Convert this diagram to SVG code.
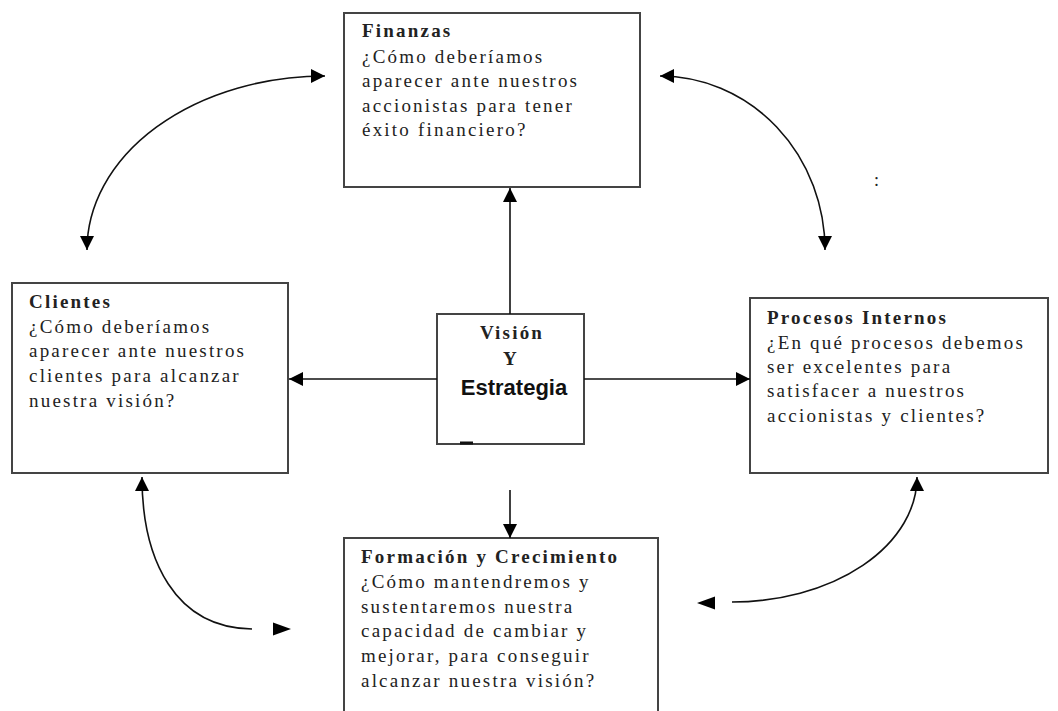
<svg xmlns="http://www.w3.org/2000/svg" width="1058" height="711" viewBox="0 0 1058 711">
  <defs>
    <marker id="ah" markerUnits="userSpaceOnUse" markerWidth="15" markerHeight="14" refX="14" refY="7" orient="auto-start-reverse" viewBox="0 0 15 14">
      <path d="M0,0 L14,7 L0,14 z" fill="#000"/>
    </marker>
    <style>
      .box { fill: #fff; stroke: #444; stroke-width: 2; }
      .t { font-family: "Liberation Serif", "Times New Roman", serif; font-size: 19px; letter-spacing: 2.2px; fill: #222; }
      .b { font-weight: bold; }
      .c { text-anchor: middle; }
      .sans { font-family: "Liberation Sans", Arial, sans-serif; font-size: 22px; font-weight: bold; letter-spacing: 0; fill: #111; }
      .ln { fill: none; stroke: #111; stroke-width: 1.6; }
    </style>
  </defs>
  <rect width="1058" height="711" fill="#fff"/>

  <g id="finanzas">
    <rect class="box" x="344" y="13" width="296" height="174"/>
    <text class="t b" x="362" y="37">Finanzas</text>
    <text class="t" x="362" y="63">¿Cómo deberíamos</text>
    <text class="t" x="362" y="87">aparecer ante nuestros</text>
    <text class="t" x="362" y="112">accionistas para tener</text>
    <text class="t" x="362" y="136">éxito financiero?</text>
  </g>

  <g id="clientes">
    <rect class="box" x="12" y="283" width="276" height="190"/>
    <text class="t b" x="29" y="308">Clientes</text>
    <text class="t" x="29" y="333">¿Cómo deberíamos</text>
    <text class="t" x="29" y="357">aparecer ante nuestros</text>
    <text class="t" x="29" y="382">clientes para alcanzar</text>
    <text class="t" x="29" y="407">nuestra visión?</text>
  </g>

  <g id="vision">
    <rect class="box" x="437" y="314" width="147" height="130"/>
    <line x1="460" y1="443" x2="473" y2="443" stroke="#111" stroke-width="3"/>
    <text class="t b c" x="512" y="339">Visión</text>
    <text class="t b c" x="511" y="365">Y</text>
    <text class="sans c" x="514" y="395">Estrategia</text>
  </g>

  <g id="procesos">
    <rect class="box" x="750" y="298" width="298" height="175"/>
    <text class="t b" x="767" y="324">Procesos Internos</text>
    <text class="t" x="767" y="349">¿En qué procesos debemos</text>
    <text class="t" x="767" y="373">ser excelentes para</text>
    <text class="t" x="767" y="397">satisfacer a nuestros</text>
    <text class="t" x="767" y="422">accionistas y clientes?</text>
  </g>

  <g id="formacion">
    <rect class="box" x="344" y="538" width="314" height="190"/>
    <text class="t b" x="361" y="563">Formación y Crecimiento</text>
    <text class="t" x="361" y="588">¿Cómo mantendremos y</text>
    <text class="t" x="361" y="613">sustentaremos nuestra</text>
    <text class="t" x="361" y="637">capacidad de cambiar y</text>
    <text class="t" x="361" y="662">mejorar, para conseguir</text>
    <text class="t" x="361" y="687">alcanzar nuestra visión?</text>
  </g>

  <g id="nota">
    <text x="874" y="186" style="font-family:'Liberation Serif',serif;font-size:18px;fill:#222">:</text>
  </g>

  <g id="connectors">
    <line class="ln" x1="510" y1="314" x2="510" y2="188" marker-end="url(#ah)"/>
    <line class="ln" x1="437" y1="379" x2="289" y2="379" marker-end="url(#ah)"/>
    <line class="ln" x1="584" y1="379" x2="750" y2="379" marker-end="url(#ah)"/>
    <line class="ln" x1="510" y1="490" x2="510" y2="538" marker-end="url(#ah)"/>
    <path class="ln" d="M87,250 A238,174 0 0 1 325,76" marker-start="url(#ah)" marker-end="url(#ah)"/>
    <path class="ln" d="M660,76 A165,174 0 0 1 825,250" marker-start="url(#ah)" marker-end="url(#ah)"/>
    <path class="ln" d="M917,477 A185,125 0 0 1 732,602" marker-start="url(#ah)"/>
    <polygon points="697,603 715,596.5 715,609.5" fill="#000"/>
    <path class="ln" d="M142,477 C142,560 175,628 252,629" marker-start="url(#ah)"/>
    <polygon points="291,629 273,622.5 273,635.5" fill="#000"/>
  </g>
</svg>
